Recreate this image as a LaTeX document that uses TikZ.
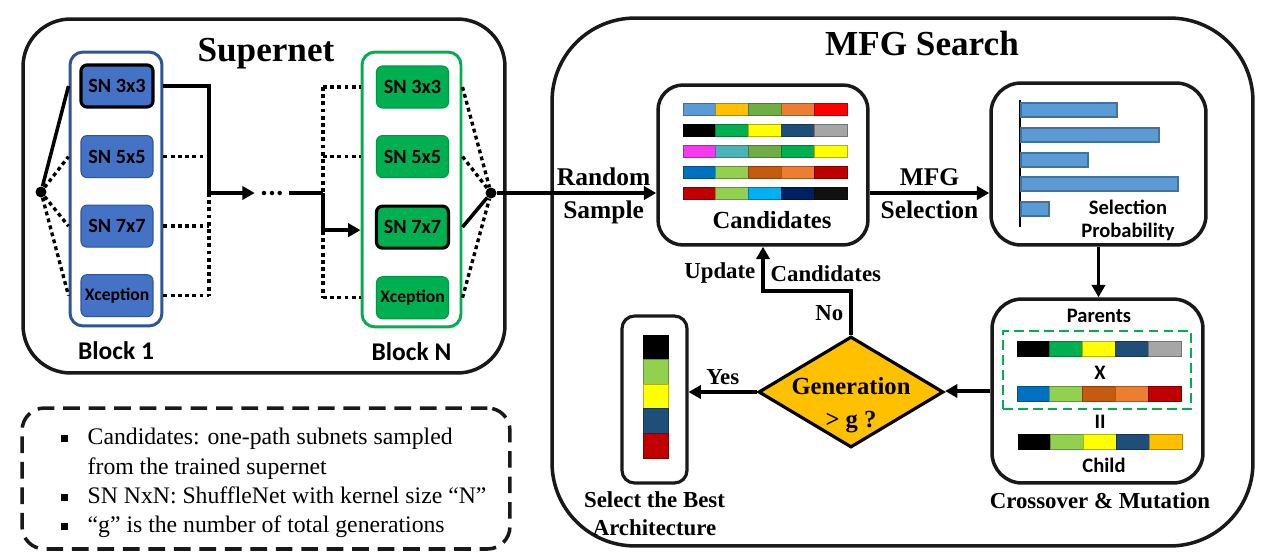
\documentclass[tikz,border=0pt]{standalone}
\usepackage{fontspec}
\setmainfont{Liberation Serif}
\newfontfamily\sansf{Carlito}
\usetikzlibrary{shapes.geometric, arrows.meta, positioning}
\definecolor{bluefill}{HTML}{4472C4}
\definecolor{blueline}{HTML}{2F5597}
\definecolor{greenfill}{HTML}{00B050}
\definecolor{diamfill}{HTML}{FFC000}
\definecolor{barfill}{HTML}{5B9BD5}
\definecolor{barline}{HTML}{41719C}
\definecolor{cLblue}{HTML}{5B9BD5}
\definecolor{cGold}{HTML}{FFC000}
\definecolor{cOlive}{HTML}{70AD47}
\definecolor{cOrange}{HTML}{ED7D31}
\definecolor{cRed}{HTML}{FF0000}
\definecolor{cBlack}{HTML}{000000}
\definecolor{cGreen}{HTML}{00B050}
\definecolor{cYellow}{HTML}{FFFF00}
\definecolor{cNavy}{HTML}{1F4E79}
\definecolor{cGray}{HTML}{A6A6A6}
\definecolor{cPink}{HTML}{F539EE}
\definecolor{cTeal}{HTML}{4BB4BA}
\definecolor{cBlue}{HTML}{0070C0}
\definecolor{cLime}{HTML}{92D050}
\definecolor{cRust}{HTML}{C55A11}
\definecolor{cDred}{HTML}{C00000}
\definecolor{cSky}{HTML}{00B0F0}
\definecolor{cDnavy}{HTML}{002060}
\definecolor{cCoal}{HTML}{111111}
\newcommand{\lgbul}{\rule[1.4pt]{4pt}{4pt}}

\begin{document}
\begin{tikzpicture}[x=0.02cm, y=-0.02cm,
		ln/.style={line width=2pt},
		dln/.style={line width=1.9pt, dash pattern=on 2.2pt off 1.9pt},
		arr/.style={ln, -{Triangle[length=7pt, width=7.5pt]}},
		joint/.style={fill, circle, minimum size=0.22cm, inner sep=0pt},
		op/.style={draw=blueline, line width=0.6pt, fill=bluefill, rounded corners=0.12cm, minimum width=1.44cm, minimum height=0.84cm, inner sep=0pt, font=\sansf\bfseries\fontsize{11.5}{13}\selectfont},
		opN/.style={op, draw=greenfill!85!black, fill=greenfill},
		chosen/.style={draw=black, line width=1.8pt},
		blk/.style={draw=#1, line width=1.7pt, fill=white, rounded corners=0.26cm},
		stage/.style={draw=black!90, line width=2pt, fill=white, inner sep=0pt, rounded corners=0.6cm},
		ttl/.style={font=\bfseries\fontsize{20}{24}\selectfont},
		lbl/.style={font=\bfseries\fontsize{13}{16}\selectfont, align=center},
		big/.style={font=\bfseries\fontsize{14.5}{17}\selectfont, align=center},
		sl/.style={font=\sansf\bfseries\fontsize{11.7}{13}\selectfont, align=center},
		cell/.style={fill=#1, draw=#1!70!black, line width=0.5pt},
		node distance=0.53cm]
		\useasboundingbox (0,0) rectangle (1265,558);

		% supernet
		\node (supnet) [stage, rounded corners=0.95cm, minimum width=9.64cm, minimum height=7.08cm] at (264,196) {};
		\node (suptl) [ttl] at (266,54) {Supernet};
		\node (blk1) [blk=blueline, minimum width=1.84cm, minimum height=5.48cm] at (116,189) {};
		\node (blkN) [blk=greenfill, minimum width=1.98cm, minimum height=5.5cm] at (411.5,189.5) {};
		\node (b1a) [op, chosen] at (117,86) {SN 3x3};
		\node (b1b) [op, below=of b1a] {SN 5x5};
		\node (b1c) [op, below=of b1b] {SN 7x7};
		\node (b1d) [op, below=of b1c, font=\sansf\bfseries\fontsize{10}{12}\selectfont] {Xception};
		\node (bNa) [opN] at (412.5,87) {SN 3x3};
		\node (bNb) [opN, below=of bNa] {SN 5x5};
		\node (bNc) [opN, chosen, below=of bNb] {SN 7x7};
		\node (bNd) [opN, below=of bNc, font=\sansf\bfseries\fontsize{10}{12}\selectfont] {Xception};
		\node (b1l) [font=\sansf\bfseries\fontsize{14.5}{16}\selectfont, below=0.15cm of blk1] {Block 1};
		\node (bNl) [font=\sansf\bfseries\fontsize{14.5}{16}\selectfont, below=0.15cm of blkN] {Block N};
		\node (d1) [joint] at (41,192) {};
		\node (d2) [joint] at (491,193) {};
		\node (etc) [inner sep=0pt, font=\sansf\bfseries\fontsize{17}{17}\selectfont] at (272,193) {...};
		\coordinate (j1) at (209,193);
		\coordinate (j2) at (323,193);
		\draw [ln] (d1) -- (blk1.west |- b1a);
		\foreach \n in {b1b,b1c,b1d}
			\draw [dln] (d1) -- (blk1.west |- \n);
		\draw [ln] (blk1.east |- b1a) -| (j1);
		\foreach \n in {b1b,b1c,b1d}
			\draw [dln] (blk1.east |- \n) -- (j1 |- \n);
		\draw [dln] (j1) -- (j1 |- b1d);
		\draw [arr] (j1) -- ([xshift=-0.1cm]etc.west);
		\draw [ln] ([xshift=0.1cm]etc.east) -- (j2);
		\draw [dln] (j2 |- bNa) -- (j2 |- bNd);
		\draw [arr] (j2) |- ([yshift=-0.06cm]blkN.west |- bNc);
		\foreach \n in {bNa,bNb,bNd}
			\draw [dln] (j2 |- \n) -- (blkN.west |- \n);
		\foreach \n in {bNa,bNb,bNd}
			\draw [dln] (blkN.east |- \n) -- (d2);
		\draw [ln] (blkN.east |- bNc) -- (d2);

		% search
		\node (mfg) [stage, rounded corners=1.66cm, minimum width=14.02cm, minimum height=10.56cm] at (902.5,282) {};
		\node (mfgtl) [ttl] at (922,43) {MFG Search};
		\node (cand) [stage, rounded corners=0.5cm, minimum width=4.2cm, minimum height=3.2cm] at (763,165) {};
		\foreach \yy/\cols in {103/{cLblue,cGold,cOlive,cOrange,cRed}, 124/{cBlack,cGreen,cYellow,cNavy,cGray}, 145/{cPink,cTeal,cOlive,cGreen,cYellow}, 166/{cBlue,cLime,cRust,cOrange,cDred}, 187/{cDred,cLime,cSky,cDnavy,cCoal}}
			\foreach \c [count=\i from 0] in \cols
				\draw [cell=\c] ({683+\i*32.8},\yy) rectangle ++(32.8,12);
		\node (candl) [font=\bfseries\fontsize{14}{16}\selectfont] at (772,220) {Candidates};
		\node (sel) [stage, rounded corners=0.6cm, minimum width=4.3cm, minimum height=3.24cm] at (1098.5,164) {};
		\draw [line width=1.6pt] (1020,100) -- (1020,227);
		\foreach \yy/\xx in {103/1117, 128/1159, 153/1088, 177/1178, 202/1049}
			\draw [fill=barfill, draw=barline, line width=0.6pt] (1021,\yy) rectangle (\xx,\yy+14);
		\node (selp) [sl] at (1128,220) {Selection\\Probability};
		\node (cross) [stage, rounded corners=0.6cm, minimum width=4.22cm, minimum height=3.68cm] at (1097.5,391) {};
		\node (par) [sl] at (1099,316) {Parents};
		\node (pbox) [draw=greenfill, line width=1.6pt, dash pattern=on 5.5pt off 3pt, minimum width=3.76cm, minimum height=1.56cm] at (1097,370) {};
		\foreach \xx/\yy/\cols in {1017/341/{cBlack,cGreen,cYellow,cNavy,cGray}, 1017/386/{cBlue,cLime,cRust,cOrange,cDred}, 1018/434/{cBlack,cLime,cYellow,cNavy,cGold}}
			\foreach \c [count=\i from 0] in \cols
				\draw [cell=\c] ({\xx+\i*32.8},\yy) rectangle ++(32.8,15);
		\node (cx) [sl] at (1100,373) {X};
		\node (ceq) [sl] at (1100,422) {II};
		\node (child) [sl] at (1104,465) {Child};
		\node (crossl) [lbl] at (1100,501) {Crossover \& Mutation};
		\node (gen) [diamond, draw, line width=1.8pt, fill=diamfill, minimum width=3.7cm, minimum height=2.22cm, inner sep=0pt,
			label={[font=\bfseries\fontsize{14}{18.5}\selectfont, align=center, yshift=-0.26cm]center:Generation\\> g ?}] at (851,392) {};
		\node (best) [stage, line width=1.8pt, rounded corners=0.25cm, minimum width=1.3cm, minimum height=3.34cm] at (654.5,399.5) {};
		\foreach \c [count=\i from 0] in {cBlack,cLime,cYellow,cNavy,cDred}
			\draw [cell=\c] (643,{335+\i*24.6}) rectangle ++(25,24.6);
		\node (bestl) [lbl, below=0.02cm of best] {Select the Best\\Architecture};
		\coordinate (nob) at (851,291);
		\draw [arr] (d2) -- (d2 -| cand.west) node [big, pos=0.67, above] {Random} node [big, pos=0.67, below] {Sample};
		\draw [arr] (cand.east |- d2) -- (sel.west |- d2) node [big, midway, above] {MFG} node [big, midway, below] {Selection};
		\draw [arr] (sel.south) -- (sel.south |- cross.north);
		\draw [arr] (cross.west) -- (cross.west -| gen.east);
		\draw [arr] (gen.west) -- (gen.west -| best.east) node [lbl, midway, above] {Yes};
		\draw [arr] (gen.north) -- node [lbl, left] {No} (nob) -| node [lbl, pos=0.7, left] {Update} node [lbl, pos=0.7, right] {Candidates} (cand.south);

		% notes
		\node (leg) [draw=black!90, line width=2pt, dash pattern=on 9.5pt off 5pt, rounded corners=0.45cm, minimum width=9.76cm, minimum height=2.82cm] at (266,478.5) {};
		\node (legtxt) [anchor=west, inner sep=0pt, font=\fontsize{13.5}{16.7}\selectfont] at (61,483) {%
			\begin{tabular}{@{}l@{\hspace{11pt}}l@{}}
				\lgbul & Candidates: one-path subnets sampled\\
				& from the trained supernet\\
				\lgbul & SN NxN: ShuffleNet with kernel size “N”\\
				\lgbul & “g” is the number of total generations
			\end{tabular}};
	\end{tikzpicture}
\end{document}
